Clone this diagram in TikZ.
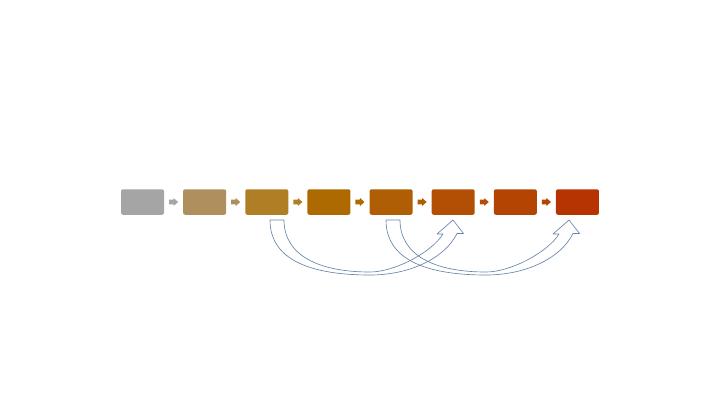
\documentclass[tikz,border=0pt]{standalone}
\usetikzlibrary{calc}
\definecolor{c1}{HTML}{A5A5A5}
\definecolor{c2}{HTML}{AF8F5E}
\definecolor{c3}{HTML}{AE7F25}
\definecolor{c4}{HTML}{AC6A00}
\definecolor{c5}{HTML}{AF5E03}
\definecolor{c6}{HTML}{B24F05}
\definecolor{c7}{HTML}{B34402}
\definecolor{c8}{HTML}{B53401}
\definecolor{curvecol}{HTML}{6684A8}
\tikzset{
  box/.style={rectangle,rounded corners=2pt,minimum width=43pt,minimum height=25.5pt,inner sep=0pt},
  curvedline/.style={draw=curvecol,line width=0.65pt,line join=round},
  pics/smallarrow/.style={code={\fill[#1] (-4.5,-2.3) -- (0,-2.3) -- (0,-4) -- (4.5,0) -- (0,4) -- (0,2.3) -- (-4.5,2.3) -- cycle;}},
  pics/curvedup/.style={code={\draw[curvedline] (0,0) .. controls (0,42) and (45,55) .. (100,55)
      .. controls (140,55) and (175,38) .. (187,13.5)
      -- (193.5,13.5) -- (183,0) -- (167,14) -- (173,14)
      .. controls (162,32) and (125,52) .. (100,52)
      .. controls (48,52) and (14,35) .. (14,0) -- cycle;}}
}
\begin{document}
\begin{tikzpicture}[x=1pt,y=-1pt]
\useasboundingbox (0,0) rectangle (720,405);
\foreach \i in {1,...,8}{
  \node[box,fill=c\i] (b\i) at ({121+21.5+62.14*(\i-1)},202) {};
}
\foreach \i [evaluate=\i as \j using int(\i+1)] in {1,...,7}{
  \pic at ($(b\i.east)!0.5!(b\j.west)$) {smallarrow=c\i};
}
\pic at (270,220) {curvedup};
\pic at (386,220) {curvedup};
\end{tikzpicture}
\end{document}
